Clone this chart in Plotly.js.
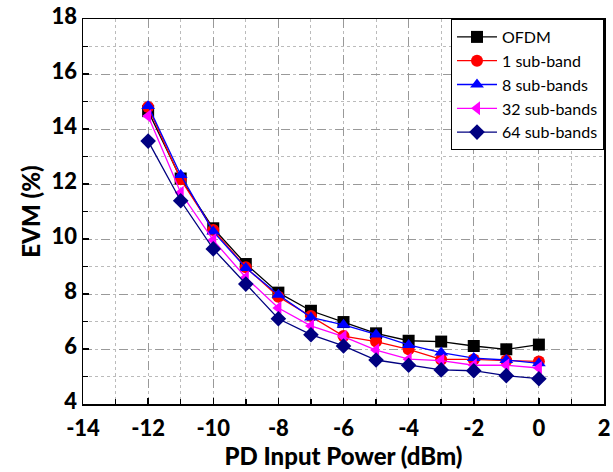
<!DOCTYPE html>
<html>
<head>
<meta charset="utf-8">
<script src="https://cdn.plot.ly/plotly-3.0.1.min.js"></script>
<style>html,body{margin:0;padding:0;background:#fff;}#chart{width:613px;height:472px;}</style>
</head>
<body>
<div id="chart"></div>
<script>
const power = [-12, -11, -10, -9, -8, -7, -6, -5, -4, -3, -2, -1, 0];
const evmOFDM = [14.65, 12.2, 10.39, 9.09, 8.05, 7.39, 6.98, 6.57, 6.30, 6.27, 6.11, 5.99, 6.16];
const evm1 = [14.8, 12.17, 10.33, 8.97, 7.90, 7.2, 6.47, 6.27, 5.99, 5.62, 5.62, 5.58, 5.55];
const evm8 = [14.84, 12.33, 10.27, 8.95, 7.97, 7.15, 6.88, 6.53, 6.15, 5.87, 5.67, 5.6, 5.48];
const evm32 = [14.47, 11.68, 9.96, 8.6, 7.49, 6.84, 6.45, 5.96, 5.63, 5.58, 5.41, 5.41, 5.31];
const evm64 = [13.56, 11.39, 9.64, 8.36, 7.10, 6.52, 6.11, 5.6, 5.41, 5.24, 5.21, 5.03, 4.92];
const names = ['OFDM', '1 sub-band', '8 sub-bands', '32 sub-bands', '64 sub-bands'];
const xTickVals = [-14, -12, -10, -8, -6, -4, -2, 0, 2];
const xTickText = ['-14', '-12', '-10', '-8', '-6', '-4', '-2', '0', '2'];
const yTickVals = [4, 6, 8, 10, 12, 14, 16, 18];
const yTickText = ['4', '6', '8', '10', '12', '14', '16', '18'];

const series = [evmOFDM, evm1, evm8, evm32, evm64];
const colors = ['#000000', '#ff0000', '#0000ff', '#ff00ff', '#000080'];
const symbols = ['square', 'circle', 'triangle-up', 'triangle-left', 'diamond'];

const traces = series.map((ys, i) => ({
  x: power, y: ys, name: names[i], type: 'scatter', mode: 'lines+markers',
  line: {color: colors[i], width: 1.3},
  marker: {color: colors[i], symbol: symbols[i], size: 12}
}));

const fam = 'Lato, "Open Sans", sans-serif';
const axisCommon = {
  showline: true, mirror: true, linecolor: '#000', linewidth: 1.5,
  ticks: 'inside', ticklen: 6, tickcolor: '#000', tickwidth: 1.5,
  showgrid: true, gridcolor: '#999', griddash: 'dash', gridwidth: 1,
  zeroline: false, tickmode: 'array',
  tickfont: {family: fam, size: 22, color: '#000', weight: 900}
};

const layout = {
  width: 613, height: 472,
  margin: {l: 83, r: 9, t: 19, b: 68},
  paper_bgcolor: '#fff', plot_bgcolor: '#fff',
  showlegend: true,
  legend: {x: 1, xanchor: 'right', y: 1, yanchor: 'top', bgcolor: '#fff',
    bordercolor: '#000', borderwidth: 1, itemwidth: 40,
    font: {family: fam, size: 16, color: '#000'}, tracegroupgap: 0},
  xaxis: Object.assign({}, axisCommon, {
    range: [-14, 2], tickvals: xTickVals, ticktext: xTickText, ticklabelstandoff: 4,
    minor: {dtick: 1, tick0: -14, ticks: 'inside', ticklen: 5, tickcolor: '#000', showgrid: true, gridcolor: '#bbb', griddash: 'dot', gridwidth: 1},
    title: {text: 'PD Input Power (dBm)', font: {family: fam, size: 24, color: '#000', weight: 900}, standoff: 6}
  }),
  yaxis: Object.assign({}, axisCommon, {
    range: [4, 18], tickvals: yTickVals, ticktext: yTickText, ticklabelshift: -3,
    minor: {dtick: 1, tick0: 4, ticks: 'inside', ticklen: 5, tickcolor: '#000', showgrid: true, gridcolor: '#bbb', griddash: 'dot', gridwidth: 1},
    title: {text: 'EVM (%)', font: {family: fam, size: 24, color: '#000', weight: 900}, standoff: 4}
  })
};

Plotly.newPlot('chart', traces, layout, {displayModeBar: false, staticPlot: true});
</script>
</body>
</html>
